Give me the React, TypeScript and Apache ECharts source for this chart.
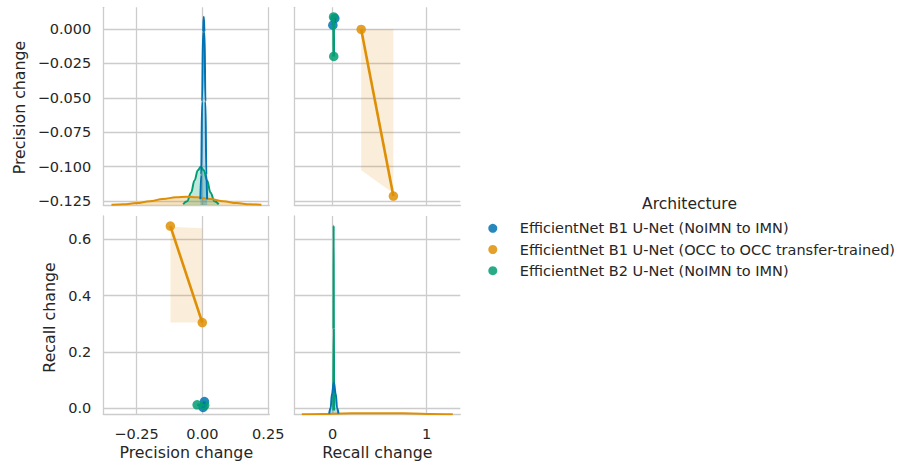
import React, { useEffect, useRef } from "react";
import * as echarts from "echarts";

const FONT = "DejaVu Sans";
const TEXT = "#262626";
const GRID = "#cccccc";

const architectures = [
  "EfficientNet B1 U-Net (NoIMN to IMN)",
  "EfficientNet B1 U-Net (OCC to OCC transfer-trained)",
  "EfficientNet B2 U-Net (NoIMN to IMN)",
];
const palette = ["#0173B2", "#DE8F05", "#029E73"];

// Precision / recall change of each run, per architecture
const precisionB1Imn = [0.0078, 0.0028];
const recallB1Imn = [0.023, 0.002];
const precisionB1Occ = [-0.1215, -0.0003];
const recallB1Occ = [0.647, 0.304];
const precisionB2Imn = [0.0088, -0.0199];
const recallB2Imn = [0.0095, 0.0115];

// Confidence band of the OCC regression fit, as [x, y] vertices
const bandRecallVsPrecision = [
  [0.304, 0.0],
  [0.646, 0.0],
  [0.646, -0.1195],
  [0.304, -0.1028],
];
const bandPrecisionVsRecall = [
  [-0.121, 0.645],
  [0.0, 0.639],
  [0.0, 0.304],
  [-0.121, 0.304],
];

// Marginal density curves (relative density, peak of the tallest = 1)
const kdePrecisionB1Imn = [
  [-0.0075, 0.03], [-0.0045, 0.16], [-0.001, 0.55], [0.0025, 0.92], [0.0053, 1.0],
  [0.0081, 0.92], [0.0116, 0.55], [0.0151, 0.16], [0.0181, 0.03],
];
const kdePrecisionB1Occ = [
  [-0.345, 0.001], [-0.3, 0.004], [-0.25, 0.01], [-0.2, 0.02], [-0.15, 0.032],
  [-0.1, 0.041], [-0.06, 0.044], [-0.02, 0.041], [0.03, 0.032], [0.08, 0.02],
  [0.13, 0.01], [0.18, 0.004], [0.224, 0.001],
];
const kdePrecisionB2Imn = [
  [-0.073, 0.004], [-0.058, 0.02], [-0.043, 0.065], [-0.03, 0.13], [-0.017, 0.185],
  [-0.006, 0.203], [0.005, 0.185], [0.018, 0.13], [0.031, 0.065], [0.046, 0.02],
  [0.062, 0.004],
];
const kdeRecallB1Imn = [
  [-0.037, 0.003], [-0.022, 0.035], [-0.007, 0.11], [0.0125, 0.168], [0.032, 0.11],
  [0.047, 0.035], [0.062, 0.003],
];
const kdeRecallB1Occ = [
  [-0.329, 0.0003], [-0.1, 0.0018], [0.1, 0.0042], [0.3, 0.0058], [0.475, 0.0062],
  [0.65, 0.0058], [0.85, 0.0042], [1.05, 0.0018], [1.28, 0.0003],
];
const kdeRecallB2Imn = [
  [0.0059, 0.02], [0.0082, 0.45], [0.0105, 1.0], [0.0128, 0.45], [0.0151, 0.02],
];

// Tick positions
const precisionTicks = [0, -0.025, -0.05, -0.075, -0.1, -0.125];
const recallTicks = [0, 0.2, 0.4, 0.6];
const precisionXTicks = [-0.25, 0, 0.25];
const recallXTicks = [0, 1];

// Axis ranges
const precisionXRange = [-0.376, 0.254];
const recallXRange = [-0.409, 1.36];
const precisionYRange = [-0.128, 0.0158];
const recallYRange = [-0.0224, 0.683];
const densityRange = [0, 1.05];

const precisionByArch = [precisionB1Imn, precisionB1Occ, precisionB2Imn];
const recallByArch = [recallB1Imn, recallB1Occ, recallB2Imn];
const kdePrecisionByArch = [kdePrecisionB1Imn, kdePrecisionB1Occ, kdePrecisionB2Imn];
const kdeRecallByArch = [kdeRecallB1Imn, kdeRecallB1Occ, kdeRecallB2Imn];

const fmt = (v: number, digits: number) => {
  const s = Math.abs(v) < 1e-12 ? (0).toFixed(digits) : v.toFixed(digits);
  return s.replace("-", "\u2212");
};

function valueAxis(
  gridIndex: number,
  range: number[],
  ticks: number[],
  showLabels: boolean,
  digits: number
) {
  return {
    type: "value",
    gridIndex,
    min: range[0],
    max: range[1],
    axisLine: { show: true, onZero: false, lineStyle: { color: GRID, width: 1.3 } },
    axisTick: { show: false, customValues: ticks },
    axisLabel: {
      show: showLabels,
      customValues: ticks,
      formatter: (v: number) => fmt(v, digits),
      color: TEXT,
      fontSize: 14.5,
      fontFamily: FONT,
      margin: 12,
    },
    splitLine: { show: true, lineStyle: { color: GRID, width: 1.3 } },
  };
}

const densityAxis = (gridIndex: number) => ({
  type: "value",
  gridIndex,
  min: densityRange[0],
  max: densityRange[1],
  show: false,
  splitLine: { show: false },
});

const pairs = (xs: number[], ys: number[]) => xs.map((x, i) => [x, ys[i]]);

function kdeSeries(i: number, data: number[][], xAxisIndex: number, yAxisIndex: number) {
  return {
    type: "line",
    name: "density " + i,
    xAxisIndex,
    yAxisIndex,
    data,
    showSymbol: false,
    symbol: "none",
    smooth: 0.4,
    smoothMonotone: "x",
    silent: true,
    lineStyle: { color: palette[i], width: 2 },
    areaStyle: { color: palette[i], opacity: 0.25 },
  };
}

function scatterSeries(i: number, data: number[][], xAxisIndex: number, yAxisIndex: number) {
  return {
    type: "scatter",
    name: architectures[i],
    xAxisIndex,
    yAxisIndex,
    data,
    symbol: "circle",
    symbolSize: 9.5,
    itemStyle: { color: palette[i], opacity: 0.85 },
    silent: true,
  };
}

function fitSeries(i: number, data: number[][], xAxisIndex: number, yAxisIndex: number) {
  return {
    type: "line",
    name: "fit " + i,
    xAxisIndex,
    yAxisIndex,
    data,
    symbol: "none",
    showSymbol: false,
    silent: true,
    lineStyle: { color: palette[i], width: 2.6 },
  };
}

function bandSeries(points: number[][], xAxisIndex: number, yAxisIndex: number) {
  return {
    type: "custom",
    name: "band",
    xAxisIndex,
    yAxisIndex,
    data: points,
    silent: true,
    encode: { x: 0, y: 1 },
    renderItem: (params: any, api: any) => {
      if (params.dataIndex !== 0) return null;
      return {
        type: "polygon",
        shape: { points: points.map((p) => api.coord(p)) },
        style: { fill: palette[1], opacity: 0.15 },
      };
    },
  };
}

export default function App() {
  const ref = useRef<HTMLDivElement>(null);

  useEffect(() => {
    if (!ref.current) return;
    const chart = echarts.init(ref.current, undefined, { renderer: "svg" });

    // Panel grid: [top-left, top-right, bottom-left, bottom-right]
    const grids = [
      { left: 103.3, top: 7.3, width: 166, height: 197.7 },
      { left: 294.3, top: 7.3, width: 166, height: 197.7 },
      { left: 103.3, top: 216, width: 166, height: 198.3 },
      { left: 294.3, top: 216, width: 166, height: 198.3 },
    ];

    const xAxis = [
      valueAxis(0, precisionXRange, precisionXTicks, false, 2),
      valueAxis(1, recallXRange, recallXTicks, false, 0),
      valueAxis(2, precisionXRange, precisionXTicks, true, 2),
      valueAxis(3, recallXRange, recallXTicks, true, 0),
    ];
    const yAxis = [
      valueAxis(0, precisionYRange, precisionTicks, true, 3),
      densityAxis(0),
      valueAxis(1, precisionYRange, precisionTicks, false, 3),
      valueAxis(2, recallYRange, recallTicks, true, 1),
      valueAxis(3, recallYRange, recallTicks, false, 1),
      densityAxis(3),
    ];

    const drawOrder = [2, 1, 0];
    const series: any[] = [];
    // diagonal densities
    drawOrder.forEach((i) => series.push(kdeSeries(i, kdePrecisionByArch[i], 0, 1)));
    drawOrder.forEach((i) => series.push(kdeSeries(i, kdeRecallByArch[i], 3, 5)));
    // top-right: recall (x) vs precision (y)
    [0, 1, 2].forEach((i) => {
      series.push(scatterSeries(i, pairs(recallByArch[i], precisionByArch[i]), 1, 2));
      if (i === 1) series.push(bandSeries(bandRecallVsPrecision, 1, 2));
    });
    [0, 1, 2].forEach((i) =>
      series.push(fitSeries(i, pairs(recallByArch[i], precisionByArch[i]), 1, 2))
    );
    // bottom-left: precision (x) vs recall (y)
    [0, 1, 2].forEach((i) => {
      series.push(scatterSeries(i, pairs(precisionByArch[i], recallByArch[i]), 2, 3));
      if (i === 1) series.push(bandSeries(bandPrecisionVsRecall, 2, 3));
    });
    [0, 1, 2].forEach((i) =>
      series.push(fitSeries(i, pairs(precisionByArch[i], recallByArch[i]), 2, 3))
    );

    const titleStyle = { fill: TEXT, fontSize: 15.8, fontFamily: FONT, align: "center", verticalAlign: "middle" };

    chart.setOption({
      animation: false,
      backgroundColor: "#ffffff",
      grid: grids,
      xAxis,
      yAxis,
      series,
      legend: {
        orient: "vertical",
        left: 483.3,
        top: 212.7,
        itemWidth: 44,
        itemHeight: 9,
        itemGap: 0,
        icon: "circle",
        selectedMode: false,
        data: architectures.map((name, i) => ({
          name,
          icon: "circle",
          itemStyle: { color: palette[i], opacity: 0.85 },
        })),
        textStyle: { color: TEXT, fontSize: 14.5, fontFamily: FONT, lineHeight: 21.2 },
      },
      graphic: [
        { type: "text", x: 689.5, y: 204.2, style: { ...titleStyle, text: "Architecture", fontSize: 15.5 } },
        { type: "text", x: 186.3, y: 452.7, style: { ...titleStyle, text: "Precision change" } },
        { type: "text", x: 377.3, y: 452.7, style: { ...titleStyle, text: "Recall change" } },
        { type: "text", x: 19.5, y: 107.5, rotation: Math.PI / 2, style: { ...titleStyle, text: "Precision change" } },
        { type: "text", x: 49.5, y: 317.5, rotation: Math.PI / 2, style: { ...titleStyle, text: "Recall change" } },
      ],
    });

    return () => chart.dispose();
  }, []);

  return (
    <div
      ref={ref}
      style={{ position: "absolute", left: 0, top: 0, width: 904, height: 465, background: "#fff" }}
    />
  );
}
